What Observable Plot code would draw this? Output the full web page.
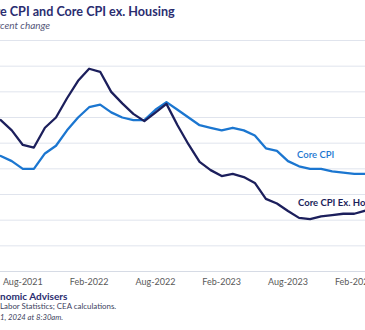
<!DOCTYPE html>
<html>
<head>
<meta charset="utf-8">
<script src="https://cdn.jsdelivr.net/npm/d3@7"></script>
<script src="https://cdn.jsdelivr.net/npm/@observablehq/plot@0.6"></script>
<style>
  html, body { margin: 0; padding: 0; background: #fff; }
  body { position: relative; width: 365px; height: 330px; overflow: hidden; font-family: Lato, "Open Sans", sans-serif; }
  .t { position: absolute; white-space: nowrap; line-height: 1; }
  #title { top: 6px; font-size: 12.6px; font-weight: 700; color: #2a2d70; }
  #subtitle { top: 20px; font-size: 10px; font-style: italic; color: #55587a; }
  #cea { top: 290.5px; font-size: 10px; font-weight: 700; color: #2a2d70; }
  #source { top: 303px; font-size: 7.9px; color: #3d3f5e; }
  #note { top: 313.5px; font-size: 7.7px; font-style: italic; color: #3d3f5e; }
  #chart { position: absolute; top: 30px; width: 514px; }
  #chart svg { max-width: none !important; }
</style>
</head>
<body>
<div id="title" class="t"><span class="pre">Cor</span>e CPI and Core CPI ex. Housing</div>
<div id="subtitle" class="t"><span class="pre">12-month per</span>cent change</div>
<div id="chart"></div>
<div id="cea" class="t"><span class="pre">Council of Eco</span>nomic Advisers</div>
<div id="source" class="t"><span class="pre">Source: Bureau of </span>Labor Statistics; CEA calculations.</div>
<div id="note" class="t"><span class="pre">Note: Chart updated April 1</span>1, 2024 at 8:30am.</div>
<script>
// Months (index 0 = Jun-2021)
const months = ["Jun-2021","Jul-2021","Aug-2021","Sep-2021","Oct-2021","Nov-2021","Dec-2021",
  "Jan-2022","Feb-2022","Mar-2022","Apr-2022","May-2022","Jun-2022","Jul-2022","Aug-2022","Sep-2022","Oct-2022","Nov-2022","Dec-2022",
  "Jan-2023","Feb-2023","Mar-2023","Apr-2023","May-2023","Jun-2023","Jul-2023","Aug-2023","Sep-2023","Oct-2023","Nov-2023","Dec-2023",
  "Jan-2024","Feb-2024","Mar-2024"];
// Core CPI, 12-month percent change
const core = [4.5,4.3,4.0,4.0,4.6,4.9,5.5,
  6.0,6.4,6.5,6.2,6.0,5.9,5.9,6.3,6.6,6.3,6.0,5.7,
  5.6,5.5,5.6,5.5,5.3,4.8,4.7,4.3,4.1,4.0,4.0,3.9,
  3.85,3.8,3.8];
// Core CPI ex. Housing, 12-month percent change
const coreExHousing = [5.9,5.5,4.93,4.83,5.6,6.0,6.75,
  7.43,7.9,7.78,7.0,6.55,6.14,5.86,6.19,6.53,5.7,4.95,4.27,
  3.95,3.72,3.8,3.68,3.45,2.83,2.65,2.36,2.09,2.04,2.15,2.2,
  2.25,2.25,2.37];
const xTickPos = [-4, 2, 8, 14, 20, 26, 32];
const xTickLabels = ["Feb-2021","Aug-2021","Feb-2022","Aug-2022","Feb-2023","Aug-2023","Feb-2024"];
const yTicks = [0,1,2,3,4,5,6,7,8,9];
const seriesNames = ["Core CPI", "Core CPI Ex. Housing"];
const seriesColors = ["#1b76d0", "#1c1f5c"];
const labelMonth = "Sep-2023";

const rows = [];
months.forEach((m, i) => {
  rows.push({i, month: m, value: core[i], series: seriesNames[0]});
  rows.push({i, month: m, value: coreExHousing[i], series: seriesNames[1]});
});
const li = months.indexOf(labelMonth);
const labels = [
  {i: li, value: core[li], label: seriesNames[0]},
  {i: li, value: coreExHousing[li], label: seriesNames[1]}
];

const W = 514, ML = 40, MR = 10;
const xDomain = [-5, 37];
const pxPerMonth = (W - ML - MR) / (xDomain[1] - xDomain[0]);

const chart = Plot.plot({
  width: W, height: 271,
  marginLeft: ML, marginRight: MR, marginTop: 10, marginBottom: 30,
  style: {fontFamily: "Lato, 'Open Sans', sans-serif", background: "transparent", maxWidth: "none"},
  x: {domain: xDomain, axis: null},
  y: {domain: [0, 9], axis: null},
  marks: [
    Plot.gridY(yTicks.slice(1), {stroke: "#e0e4ed", strokeOpacity: 1, strokeWidth: 1}),
    Plot.ruleY([0], {stroke: "#d6dbe5", strokeWidth: 1.2}),
    Plot.axisY(yTicks, {tickSize: 0, tickPadding: 6, fontSize: 9, fill: "#595959", label: null}),
    Plot.axisX(xTickPos, {tickSize: 0, tickPadding: 7, fontSize: 9, fill: "#595959", label: null,
      tickFormat: d => xTickLabels[xTickPos.indexOf(d)]}),
    Plot.line(rows.filter(d => d.series === seriesNames[0]), {x: "i", y: "value", stroke: seriesColors[0], strokeWidth: 2.3}),
    Plot.line(rows.filter(d => d.series === seriesNames[1]), {x: "i", y: "value", stroke: seriesColors[1], strokeWidth: 2.3}),
    Plot.text([labels[0]], {x: "i", y: "value", text: "label", textAnchor: "start", dx: -2, dy: -11,
      fill: seriesColors[0], fontSize: 9.5, fontWeight: 600}),
    Plot.text([labels[1]], {x: "i", y: "value", text: "label", textAnchor: "start", dx: -1, dy: -15,
      fill: seriesColors[1], fontSize: 9.5, fontWeight: 700})
  ]
});
const holder = document.getElementById("chart");
holder.appendChild(chart);
holder.style.left = (-(ML + (0 - xDomain[0]) * pxPerMonth)) + "px";

// shift each text block so the cropped portion matches
document.querySelectorAll(".t").forEach(el => {
  const pre = el.querySelector(".pre");
  el.style.left = (-pre.getBoundingClientRect().width) + "px";
});
</script>
</body>
</html>
